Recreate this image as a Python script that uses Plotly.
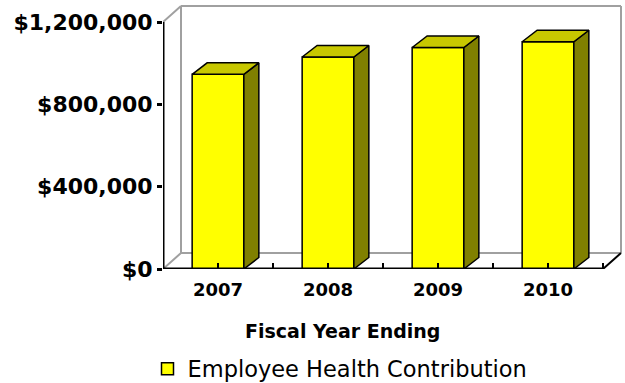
import plotly.graph_objects as go

# ---- data -------------------------------------------------------------
years = ["2007", "2008", "2009", "2010"]
contribution = [946000, 1030000, 1076000, 1104000]
y_ticks = [0, 400000, 800000, 1200000]
y_tick_labels = ["$0", "$400,000", "$800,000", "$1,200,000"]
series_name = "Employee Health Contribution"
x_title = "Fiscal Year Ending"

# ---- geometry (pixels) -----------------------------------------------
W, H = 625, 383
PLOT_L, PLOT_R, PLOT_T, PLOT_B = 163, 623, 3, 269
PX_PER_CAT = 110.0                 # width of one category on the front axis
PX_PER_UNIT = 247.0 / 1200000.0    # vertical pixels per dollar
WALL_DX, WALL_DY = 18, 16          # depth of the back wall (px)
BAR_DX, BAR_DY = 15, 11.5          # depth of each column (px)
BAR_W = 0.47

x0 = -0.5
x_end = x0 + (PLOT_R - PLOT_L) / PX_PER_CAT
y_end = (PLOT_B - PLOT_T) / PX_PER_UNIT
n = len(years)
x_front_end = x0 + n

wdx = WALL_DX / PX_PER_CAT
wdy = WALL_DY / PX_PER_UNIT
bdx = BAR_DX / PX_PER_CAT
bdy = BAR_DY / PX_PER_UNIT
ymax_tick = max(y_ticks)

FRONT = "#FFFF00"
TOP = "#C8C800"
SIDE = "#808000"
WALL = "#A0A0A0"

fig = go.Figure()

# front faces of the columns
fig.add_trace(go.Bar(
    x=list(range(n)), y=contribution, width=BAR_W, name=series_name,
    marker=dict(color=FRONT, line=dict(color="black", width=1.5)),
    showlegend=True, hoverinfo="skip",
))

# side and top faces, derived from each value
h = BAR_W / 2
for i, v in enumerate(contribution):
    fig.add_trace(go.Scatter(
        x=[i + h, i + h + bdx, i + h + bdx, i + h, i + h],
        y=[0, bdy, v + bdy, v, 0],
        mode="lines", fill="toself", fillcolor=SIDE,
        line=dict(color="black", width=1.5), showlegend=False, hoverinfo="skip",
    ))
    fig.add_trace(go.Scatter(
        x=[i - h, i - h + bdx, i + h + bdx, i + h, i - h],
        y=[v, v + bdy, v + bdy, v, v],
        mode="lines", fill="toself", fillcolor=TOP,
        line=dict(color="black", width=1.5), showlegend=False, hoverinfo="skip",
    ))

# front axis lines
fig.add_trace(go.Scatter(
    x=[x0, x0, x_front_end], y=[ymax_tick, 0, 0], mode="lines",
    line=dict(color="black", width=3), showlegend=False, hoverinfo="skip",
))

# back wall and floor outlines (behind the columns)
shapes = []
def seg(xa, ya, xb, yb, color=WALL, width=2, layer="below"):
    shapes.append(dict(type="line", xref="x", yref="y", x0=xa, y0=ya, x1=xb, y1=yb,
                       line=dict(color=color, width=width), layer=layer))

bx0, bx1 = x0 + wdx, x_front_end + wdx
seg(bx0, wdy, bx0, ymax_tick + wdy)
seg(bx0, ymax_tick + wdy, bx1, ymax_tick + wdy)
seg(bx1, ymax_tick + wdy, bx1, wdy)
seg(bx0, wdy, bx1, wdy)
seg(x0, 0, bx0, wdy)
seg(x0, ymax_tick, bx0, ymax_tick + wdy)
seg(x_front_end, 0, bx1, wdy, color="black", width=2)

def px_to_paper_x(px):
    return (px - PLOT_L) / (PLOT_R - PLOT_L)

def px_to_paper_y(py):
    return (PLOT_B - py) / (PLOT_B - PLOT_T)

fig.update_layout(
    width=W, height=H,
    margin=dict(l=PLOT_L, r=W - PLOT_R, t=PLOT_T, b=H - PLOT_B, autoexpand=False),
    paper_bgcolor="white", plot_bgcolor="rgba(0,0,0,0)",
    shapes=shapes,
    showlegend=True,
    legend=dict(
        xref="container", yref="container",
        x=340 / W, y=1 - 369 / H,
        xanchor="center", yanchor="middle", orientation="h",
        font=dict(family="DejaVu Sans", size=22.5, color="black"),
        bgcolor="rgba(0,0,0,0)",
    ),
    annotations=[dict(
        text=x_title, xref="paper", yref="paper",
        x=px_to_paper_x(342), y=px_to_paper_y(331),
        xanchor="center", yanchor="middle", showarrow=False,
        font=dict(family="DejaVu Sans", size=19, color="black", weight="bold"),
    )],
)

fig.update_xaxes(
    range=[x0, x_end], showgrid=False, zeroline=False, showline=False,
    automargin=False,
    tickvals=list(range(n)), ticktext=years,
    ticks="inside", ticklen=6, tickwidth=2, tickcolor="black",
    minor=dict(tick0=0.5, dtick=1, ticks="inside", ticklen=6, tickwidth=2, tickcolor="black"),
    ticklabelstandoff=8,
    tickfont=dict(family="DejaVu Sans", size=18, color="black", weight="bold"),
    fixedrange=True,
)
fig.update_yaxes(
    range=[0, y_end], showgrid=False, zeroline=False, showline=False,
    automargin=False,
    tickvals=y_ticks, ticktext=y_tick_labels,
    ticks="outside", ticklen=5, tickwidth=3, tickcolor="black",
    tickfont=dict(family="DejaVu Sans", size=22, color="black", weight="bold"),
    fixedrange=True,
)

fig.write_html("out.html")
